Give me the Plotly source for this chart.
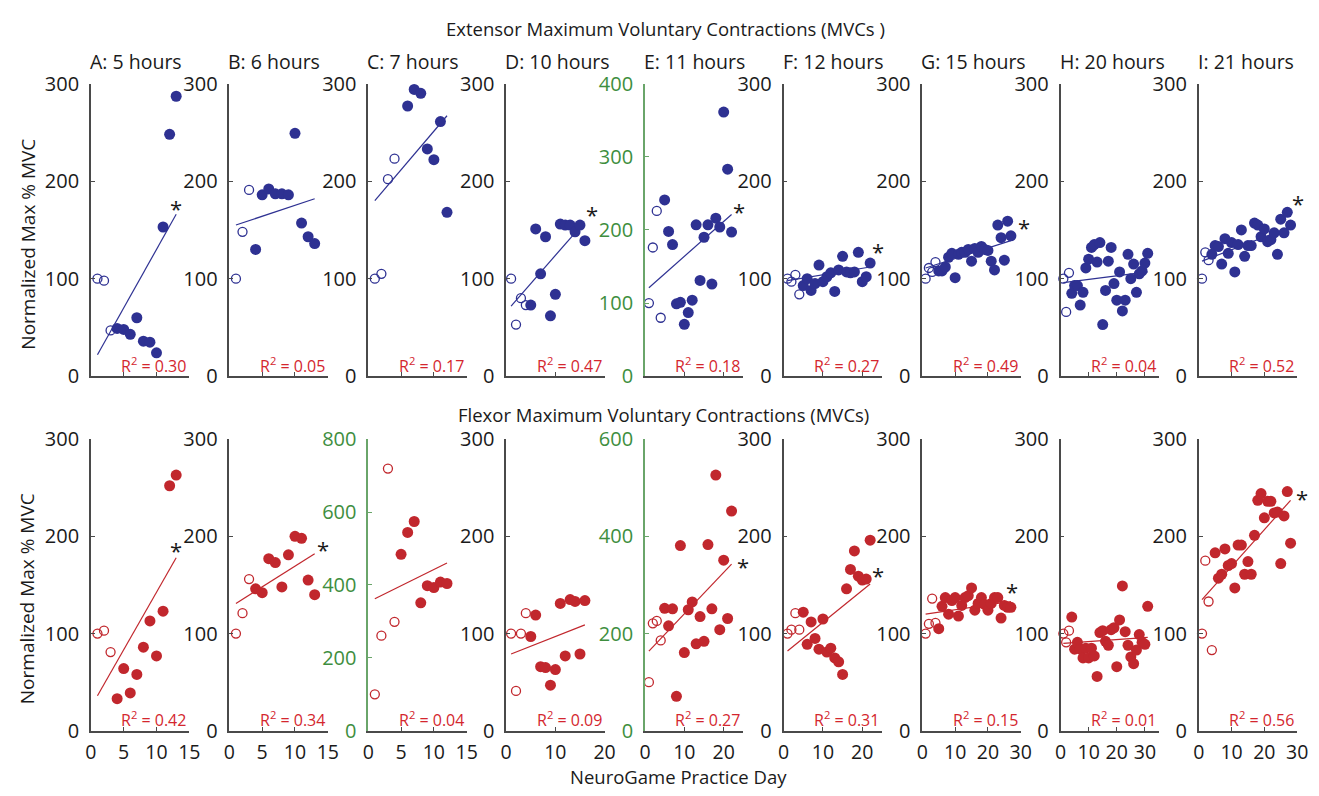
import plotly.graph_objects as go

# ---------------- data ----------------
panel_labels = ["A: 5 hours", "B: 6 hours", "C: 7 hours", "D: 10 hours", "E: 11 hours",
                "F: 12 hours", "G: 15 hours", "H: 20 hours", "I: 21 hours"]

# Extensor MVCs (top row)
ext_days_A = [1, 2, 3, 4, 5, 6, 7, 8, 9, 10, 11, 12, 13]
ext_vals_A = [100, 98, 47, 49, 48, 43, 60, 36, 35, 24, 153, 248, 287]
ext_days_B = [1, 2, 3, 4, 5, 6, 7, 8, 9, 10, 11, 12, 13]
ext_vals_B = [100, 148, 191, 130, 186, 192, 187, 187, 186, 249, 157, 143, 136]
ext_days_C = [1, 2, 3, 4, 6, 7, 8, 9, 10, 11, 12]
ext_vals_C = [100, 105, 202, 223, 277, 294, 290, 233, 222, 261, 168]
ext_days_D = [1, 2, 3, 4, 5, 6, 7, 8, 9, 10, 11, 12, 13, 14, 15, 16]
ext_vals_D = [100, 53, 80, 73, 73, 151, 105, 143, 62, 84, 156, 155, 155, 148, 155, 139]
ext_days_E = [1, 2, 3, 4, 5, 6, 7, 8, 9, 10, 11, 12, 13, 14, 15, 16, 17, 18, 19, 20, 21, 22]
ext_vals_E = [100, 176, 226, 80, 241, 198, 180, 99, 101, 71, 87, 104, 207, 131, 190, 207,
              126, 216, 204, 361, 283, 197]
ext_days_F = [1, 2, 3, 4, 5, 6, 7, 8, 9, 10, 11, 12, 13, 14, 15, 16, 17, 18, 19, 20, 21, 22]
ext_vals_F = [100, 97, 104, 84, 93, 100, 88, 95, 114, 97, 102, 106, 87, 109, 123, 107,
              106, 107, 127, 97, 102, 116]
ext_days_G = [1, 2, 3, 4, 5, 6, 7, 8, 9, 10, 11, 12, 13, 14, 15, 16, 17, 18, 19, 20,
              21, 22, 23, 24, 25, 26, 27]
ext_vals_G = [100, 111, 107, 117, 108, 108, 112, 122, 126, 101, 125, 127, 127, 130, 118,
              131, 127, 133, 130, 129, 118, 109, 155, 142, 119, 159, 144]
ext_days_H = [1, 2, 3, 4, 5, 6, 7, 8, 9, 10, 11, 12, 13, 14, 15, 16, 17, 18, 19, 20,
              21, 22, 23, 24, 25, 26, 27, 28, 29, 30, 31]
ext_vals_H = [100, 66, 106, 85, 93, 93, 73, 86, 111, 120, 132, 135, 117, 137, 53, 88,
              118, 132, 95, 78, 107, 67, 78, 125, 100, 115, 86, 105, 108, 116, 126]
ext_days_I = [1, 2, 3, 4, 5, 6, 7, 8, 9, 10, 11, 12, 13, 14, 15, 16, 17, 18, 19, 20,
              21, 22, 23, 24, 25, 26, 27, 28]
ext_vals_I = [100, 127, 119, 125, 134, 133, 115, 141, 126, 137, 107, 135, 150, 123, 134,
              134, 157, 155, 143, 151, 138, 140, 147, 125, 161, 147, 168, 155]
ext_n_open = [3, 3, 4, 4, 4, 4, 4, 3, 3]
ext_fit_day0 = [1, 1, 1, 1, 1, 1, 1, 1, 1]
ext_fit_day1 = [13, 13, 12, 14, 22, 22, 27, 31, 28]
ext_fit_val0 = [22, 155, 180, 72, 121, 98, 111, 96, 118]
ext_fit_val1 = [166, 182, 267, 147, 221, 112, 139, 107, 153]
ext_r2 = ["0.30", "0.05", "0.17", "0.47", "0.18", "0.27", "0.49", "0.04", "0.52"]

# Flexor MVCs (bottom row)
flx_days_A = [1, 2, 3, 4, 5, 6, 7, 8, 9, 10, 11, 12, 13]
flx_vals_A = [100, 103, 81, 33, 64, 39, 58, 86, 113, 77, 123, 252, 263]
flx_days_B = [1, 2, 3, 4, 5, 6, 7, 8, 9, 10, 11, 12, 13]
flx_vals_B = [100, 121, 156, 146, 142, 177, 173, 148, 181, 200, 198, 155, 140]
flx_days_C = [1, 2, 3, 4, 5, 6, 7, 8, 9, 10, 11, 12]
flx_vals_C = [100, 261, 719, 299, 484, 544, 574, 351, 398, 393, 408, 404]
flx_days_D = [1, 2, 3, 4, 5, 6, 7, 8, 9, 10, 11, 12, 13, 14, 15, 16]
flx_vals_D = [100, 41, 100, 121, 97, 119, 66, 65, 47, 63, 131, 77, 135, 133, 79, 134]
flx_days_E = [1, 2, 3, 4, 5, 6, 7, 8, 9, 10, 11, 12, 13, 14, 15, 16, 17, 18, 19, 20, 21, 22]
flx_vals_E = [100, 221, 226, 186, 252, 216, 251, 71, 381, 161, 249, 265, 179, 235, 184,
              383, 251, 526, 208, 351, 231, 452]
flx_days_F = [1, 2, 3, 4, 5, 6, 7, 8, 9, 10, 11, 12, 13, 14, 15, 16, 17, 18, 19, 20, 21, 22]
flx_vals_F = [100, 104, 121, 104, 122, 89, 112, 95, 84, 115, 81, 85, 75, 71, 58, 146,
              166, 185, 159, 155, 156, 196]
flx_days_G = [1, 2, 3, 4, 5, 6, 7, 8, 9, 10, 11, 12, 13, 14, 15, 16, 17, 18, 19, 20,
              21, 22, 23, 24, 25, 26, 27]
flx_vals_G = [100, 110, 136, 111, 105, 128, 137, 120, 134, 137, 118, 129, 137, 139, 147,
              124, 131, 137, 130, 124, 131, 137, 137, 116, 129, 127, 127]
flx_days_H = [1, 2, 3, 4, 5, 6, 7, 8, 9, 10, 11, 12, 13, 14, 15, 16, 17, 18, 19, 20,
              21, 22, 23, 24, 25, 26, 27, 28, 29, 30, 31]
flx_vals_H = [100, 91, 103, 117, 84, 91, 84, 75, 85, 75, 85, 77, 56, 101, 103, 92, 88,
              104, 106, 66, 114, 149, 102, 88, 76, 69, 83, 99, 91, 89, 128]
flx_days_I = [1, 2, 3, 4, 5, 6, 7, 8, 9, 10, 11, 12, 13, 14, 15, 16, 17, 18, 19, 20,
              21, 22, 23, 24, 25, 26, 27, 28]
flx_vals_I = [100, 175, 133, 83, 183, 157, 161, 187, 170, 172, 147, 191, 191, 161, 174,
              161, 201, 237, 244, 219, 236, 236, 224, 225, 172, 221, 246, 193]
flx_n_open = [3, 3, 4, 4, 4, 4, 4, 3, 4]
flx_fit_day0 = [1, 1, 1, 1, 1, 1, 1, 1, 1]
flx_fit_day1 = [13, 13, 12, 16, 22, 22, 27, 31, 28]
flx_fit_val0 = [36, 131, 362, 79, 164, 82, 120, 90, 135]
flx_fit_val1 = [178, 182, 460, 109, 343, 151, 133, 96, 237]
flx_r2 = ["0.42", "0.34", "0.04", "0.09", "0.27", "0.31", "0.15", "0.01", "0.56"]

# significance markers (annotation positions, data coords)
ext_star = {0: (12.9, 177), 3: (17.4, 170), 4: (23.8, 232), 5: (23.9, 132), 6: (31.1, 157), 8: (30.2, 182)}
flx_star = {0: (12.9, 190), 1: (14.2, 191), 4: (24.8, 347), 5: (24.0, 164), 6: (27.3, 148), 8: (31.5, 244)}

# ---------------- styling / layout ----------------
BLUE = "#2E3192"
RED = "#C1272D"
GREEN_AX = "#6AA56A"
GREEN_TXT = "#3E8E3E"
AXC = "#4A4A4A"
TXT = "#1A1A1A"
R2C = "#D4262E"
FONT = "Open Sans"

W, H = 1319, 796


def px_x(px):
    return px / W


def px_y(py):
    return 1 - py / H


panel_left = [86, 226.3, 367, 506.7, 647.3, 787.7, 928.3, 1068.3, 1208.3]
panel_w = 99.7
rows_px = [(72, 375), (440, 742)]

x_max = [15, 15, 15, 20, 25, 25, 30, 35, 30]
x_ticks = [[0, 5, 10, 15]] * 3 + [[0, 10, 20]] * 3 + [[0, 10, 20, 30]] * 3
ext_ymax = [300, 300, 300, 300, 400, 300, 300, 300, 300]
flx_ymax = [300, 300, 800, 300, 600, 300, 300, 300, 300]

ext_days = [ext_days_A, ext_days_B, ext_days_C, ext_days_D, ext_days_E, ext_days_F,
            ext_days_G, ext_days_H, ext_days_I]
ext_vals = [ext_vals_A, ext_vals_B, ext_vals_C, ext_vals_D, ext_vals_E, ext_vals_F,
            ext_vals_G, ext_vals_H, ext_vals_I]
flx_days = [flx_days_A, flx_days_B, flx_days_C, flx_days_D, flx_days_E, flx_days_F,
            flx_days_G, flx_days_H, flx_days_I]
flx_vals = [flx_vals_A, flx_vals_B, flx_vals_C, flx_vals_D, flx_vals_E, flx_vals_F,
            flx_vals_G, flx_vals_H, flx_vals_I]

fig = go.Figure()
layout = dict(
    width=W, height=H, margin=dict(l=0, r=0, t=0, b=0, pad=0),
    paper_bgcolor="white", plot_bgcolor="white", showlegend=False,
    font=dict(family=FONT, size=19, color=TXT),
)
annotations = []

rows = [
    ("ext", ext_days, ext_vals, ext_n_open, ext_fit_day0, ext_fit_day1, ext_fit_val0,
     ext_fit_val1, ext_r2, ext_ymax, BLUE, ext_star),
    ("flx", flx_days, flx_vals, flx_n_open, flx_fit_day0, flx_fit_day1, flx_fit_val0,
     flx_fit_val1, flx_r2, flx_ymax, RED, flx_star),
]

k = 0
for r, (name, days, vals, nopen, fd0, fd1, fv0, fv1, r2, ymax, col, stars) in enumerate(rows):
    ytop, ybot = rows_px[r]
    for i in range(9):
        k += 1
        sfx = "" if k == 1 else str(k)
        xa, ya = "x" + sfx, "y" + sfx
        green = ymax[i] != 300
        axcol = GREEN_AX if green else AXC
        tickcol = GREEN_TXT if green else TXT
        step = 200 if ymax[i] > 400 else 100
        yticks = list(range(0, ymax[i] + 1, step))
        x0 = panel_left[i]
        layout["xaxis" + sfx] = dict(
            domain=[px_x(x0), px_x(x0 + panel_w)], anchor=ya, range=[0, x_max[i]],
            showline=True, linecolor=AXC, linewidth=1.6, showgrid=False, zeroline=False,
            ticks="inside", ticklen=4, tickwidth=1.2, tickcolor=AXC,
            tickvals=x_ticks[i], showticklabels=(r == 1),
            tickfont=dict(family=FONT, size=19.5, color=TXT), ticklabelstandoff=3,
        )
        layout["yaxis" + sfx] = dict(
            domain=[px_y(ybot), px_y(ytop)], anchor=xa, range=[0, ymax[i]],
            showline=True, linecolor=axcol, linewidth=1.6, showgrid=False, zeroline=False,
            ticks="inside", ticklen=4, tickwidth=1.2, tickcolor=axcol,
            tickvals=yticks, tickfont=dict(family=FONT, size=20, color=tickcol),
            ticklabelstandoff=6,
        )
        d, v, n = days[i], vals[i], nopen[i]
        # regression line
        fig.add_trace(go.Scatter(x=[fd0[i], fd1[i]], y=[fv0[i], fv1[i]], mode="lines",
                                 line=dict(color=col, width=1.2), xaxis=xa, yaxis=ya,
                                 hoverinfo="skip", cliponaxis=False))
        # baseline (open) points
        fig.add_trace(go.Scatter(x=d[:n], y=v[:n], mode="markers", xaxis=xa, yaxis=ya,
                                 marker=dict(symbol="circle-open", size=9, color=col,
                                             line=dict(width=1.3, color=col)),
                                 cliponaxis=False))
        # practice (filled) points
        fig.add_trace(go.Scatter(x=d[n:], y=v[n:], mode="markers", xaxis=xa, yaxis=ya,
                                 marker=dict(symbol="circle", size=11, color=col,
                                             line=dict(width=0)),
                                 cliponaxis=False))
        # R^2 label
        annotations.append(dict(
            x=px_x(x0 + panel_w - 1), y=px_y(ybot - 12), xref="paper", yref="paper",
            xanchor="right", yanchor="middle", showarrow=False,
            text="R<sup>2</sup> = " + r2[i], font=dict(family=FONT, size=16, color=R2C)))
        # significance star (converted to paper coords so it is never hidden)
        if i in stars:
            sx, sy = stars[i]
            sxp = x0 + sx / x_max[i] * panel_w
            syp = ybot - sy / ymax[i] * (ybot - ytop)
            annotations.append(dict(x=px_x(sxp), y=px_y(syp), xref="paper", yref="paper",
                                    text="*", showarrow=False,
                                    xanchor="center", yanchor="middle", yshift=-4,
                                    font=dict(family=FONT, size=22, color=TXT)))
        # panel titles (top row)
        if r == 0:
            annotations.append(dict(
                x=px_x(x0 - 3), y=px_y(49), xref="paper", yref="paper", xanchor="left",
                yanchor="middle", showarrow=False, text=panel_labels[i],
                font=dict(family=FONT, size=19.5, color=TXT)))

# row headers, axis titles
annotations += [
    dict(x=px_x(668), y=px_y(15), xref="paper", yref="paper", showarrow=False,
         text="Extensor Maximum Voluntary Contractions (MVCs )",
         font=dict(family=FONT, size=18.5, color=TXT), xanchor="center", yanchor="middle"),
    dict(x=px_x(666), y=px_y(415), xref="paper", yref="paper", showarrow=False,
         text="Flexor Maximum Voluntary Contractions (MVCs)",
         font=dict(family=FONT, size=18.5, color=TXT), xanchor="center", yanchor="middle"),
    dict(x=px_x(22), y=px_y(238), xref="paper", yref="paper", showarrow=False,
         text="Normalized Max % MVC", textangle=-90,
         font=dict(family=FONT, size=19, color=TXT), xanchor="center", yanchor="middle"),
    dict(x=px_x(22), y=px_y(605), xref="paper", yref="paper", showarrow=False,
         text="Normalized Max % MVC", textangle=-90,
         font=dict(family=FONT, size=19, color=TXT), xanchor="center", yanchor="middle"),
    dict(x=px_x(681), y=px_y(789), xref="paper", yref="paper", showarrow=False,
         text="NeuroGame Practice Day",
         font=dict(family=FONT, size=18.5, color=TXT), xanchor="center", yanchor="middle"),
]
layout["annotations"] = annotations
fig.update_layout(**layout)
fig.write_html("out.html")
